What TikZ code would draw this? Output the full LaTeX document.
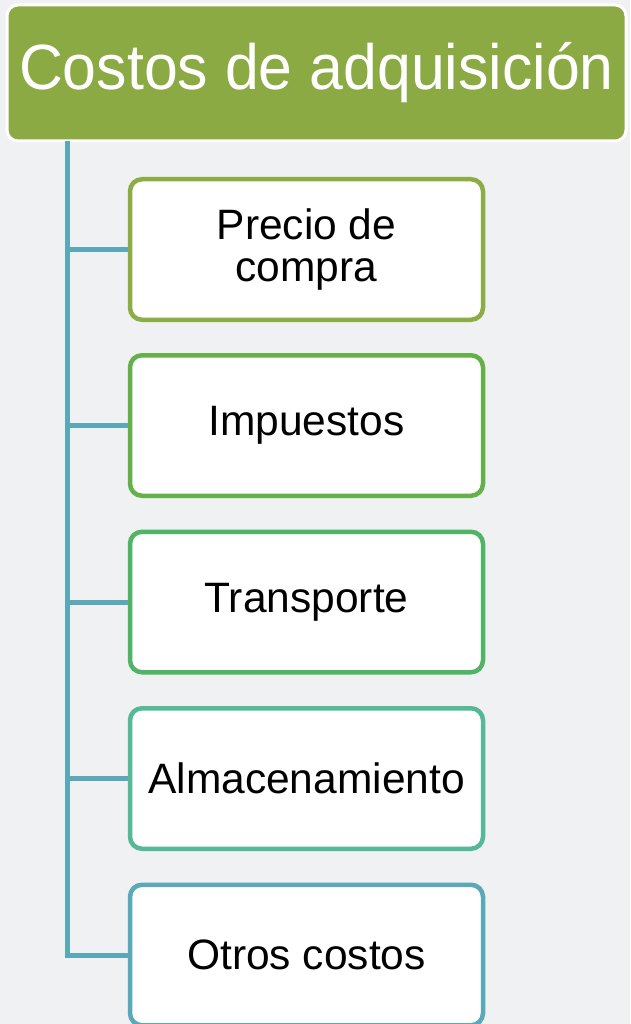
\documentclass[tikz,border=0pt]{standalone}
\usepackage{fontspec}
\usepackage{graphicx}
\setmainfont{Liberation Sans}
\definecolor{bgc}{HTML}{F0F1F3}
\definecolor{titlegreen}{HTML}{8CAA44}
\definecolor{connc}{HTML}{5AA8B8}
\definecolor{cA}{HTML}{8CAC46}
\definecolor{cB}{HTML}{64B04A}
\definecolor{cC}{HTML}{50B466}
\definecolor{cD}{HTML}{55B896}
\definecolor{cE}{HTML}{5BA8B8}
\tikzset{
  titlebox/.style={draw=white, line width=3pt, fill=titlegreen, rounded corners=11pt,
    minimum width=619pt, minimum height=136pt, inner sep=0pt, text=white,
    font=\fontsize{64}{72}\selectfont},
  childbox/.style={line width=4.5pt, fill=white, rounded corners=12pt,
    minimum width=353pt, minimum height=140.5pt, inner sep=0pt, align=center,
    text=black, font=\fontsize{42.5}{42}\selectfont},
  conn/.style={draw=connc, line width=5pt}
}
\begin{document}
\begin{tikzpicture}[x=1pt,y=-1pt]
\fill[bgc] (0,0) rectangle (630,1024);
\useasboundingbox (0,0) rectangle (630,1024);
\node[titlebox] (title) at (316.5,73) {\scalebox{0.95}[1]{Costos de adquisición}};
\coordinate (top) at (67,141);
\node[childbox, draw=cA] (b1) at (306.5,249.5) {Precio de\\compra};
\node[childbox, draw=cB] (b2) at (306.5,425.5) {Impuestos};
\node[childbox, draw=cC] (b3) at (306.5,602) {Transporte};
\node[childbox, draw=cD] (b4) at (306.5,778.5) {Almacenamiento};
\node[childbox, draw=cE] (b5) at (306.5,955) {Otros costos};
\draw[conn] (top) |- (b5.west);
\draw[conn] (b1.west -| top) -- (b1.west);
\draw[conn] (b2.west -| top) -- (b2.west);
\draw[conn] (b3.west -| top) -- (b3.west);
\draw[conn] (b4.west -| top) -- (b4.west);
\end{tikzpicture}
\end{document}
